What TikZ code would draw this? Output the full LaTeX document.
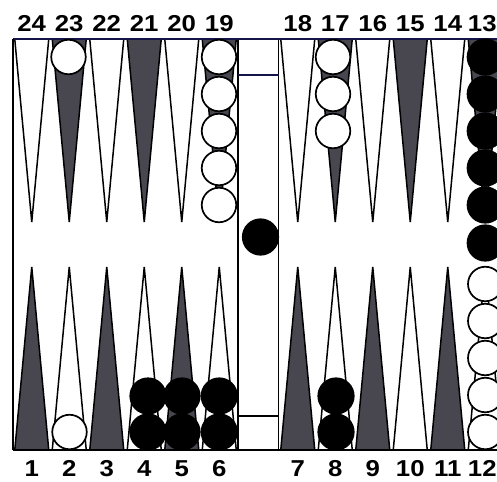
\documentclass[tikz,border=0pt]{standalone}
\usepackage{fontspec}
\setmainfont{Liberation Sans}
\definecolor{pointdark}{RGB}{72,70,78}
\definecolor{edgeblue}{RGB}{20,20,70}
\tikzset{
  brd/.style={line width=1.6pt, draw=black},
  tri/.style={line width=1.5pt, draw=black, line join=miter},
  darktri/.style={tri, fill=pointdark},
  lighttri/.style={tri, fill=white},
  wchk/.style={circle, draw=black, fill=white, line width=1.7pt, minimum size=34.5pt, inner sep=0pt},
  bchk/.style={circle, draw=black, fill=black, line width=1.2pt, minimum size=36pt, inner sep=0pt},
  lbl/.style={font=\bfseries\fontsize{23}{24}\selectfont, inner sep=0pt, anchor=center, xscale=1.12}
}
\begin{document}
\begin{tikzpicture}[x=1pt, y=-1pt]
\useasboundingbox (0,0) rectangle (497,481);
\fill[white] (0,0) rectangle (497,481);
\def\L{13}\def\R{279}\def\W{37.5}\def\H{17}
\def\Top{39}\def\Bot{450}
% labels
\foreach \k/\n in {0/24,1/23,2/22,3/21,4/20,5/19}{
  \pgfmathsetmacro\c{\L+\W*(\k+0.5)}
  \node[lbl] (t\n) at (\c,23.5) {\n};
}
\foreach \k/\n in {0/18,1/17,2/16,3/15,4/14,5/13}{
  \pgfmathsetmacro\c{\R+\W*(\k+0.5)-(\k==5)*3}
  \node[lbl] (t\n) at (\c,23.5) {\n};
}
\foreach \k/\n in {0/1,1/2,2/3,3/4,4/5,5/6}{
  \pgfmathsetmacro\c{\L+\W*(\k+0.5)}
  \node[lbl] (b\n) at (\c,468.5) {\n};
}
\foreach \k/\n in {0/7,1/8,2/9,3/10,4/11,5/12}{
  \pgfmathsetmacro\c{\R+\W*(\k+0.5)-(\k==5)*3}
  \node[lbl] (b\n) at (\c,468.5) {\n};
}
\begin{scope}
\clip (0,0) rectangle (497,481);
% top points 24..19 (left), 18..13 (right)
\foreach \k/\s in {0/lighttri,1/darktri,2/lighttri,3/darktri,4/lighttri,5/darktri}{
  \pgfmathsetmacro\c{\L+\W*(\k+0.5)}
  \draw[\s] (\c-\H,\Top) -- (\c,222) -- (\c+\H,\Top);
  \pgfmathsetmacro\c{\R+\W*(\k+0.5)}
  \draw[\s] (\c-\H,\Top) -- (\c,222) -- (\c+\H,\Top);
}
% bottom points 1..6 (left), 7..12 (right)
\foreach \k/\s in {0/darktri,1/lighttri,2/darktri,3/lighttri,4/darktri,5/lighttri}{
  \pgfmathsetmacro\c{\L+\W*(\k+0.5)}
  \draw[\s] (\c-\H,\Bot) -- (\c,267) -- (\c+\H,\Bot);
  \pgfmathsetmacro\c{\R+\W*(\k+0.5)}
  \draw[\s] (\c-\H,\Bot) -- (\c,267) -- (\c+\H,\Bot);
}
% bar
\draw[brd] (238,\Top) -- (238,\Bot);
\draw[brd] (278.5,\Top) -- (278.5,\Bot);
\draw[line width=1.4pt, draw=edgeblue] (238,75) -- (278.5,75);
\draw[line width=1.4pt] (238,416) -- (278.5,416);
% board frame
\draw[line width=1.8pt, draw=edgeblue] (\L,\Top) -- (497,\Top);
\draw[brd] (\L,\Top) -- (\L,\Bot);
\draw[line width=2pt] (\L,\Bot) -- (497,\Bot);
% white checkers
\node[wchk] (w23) at (68.5,57) {};
\foreach \i/\y in {1/57,2/94,3/131,4/168,5/205}{
  \node[wchk] (w19\i) at (219,\y) {};
}
\foreach \i/\y in {1/57,2/94,3/131}{
  \node[wchk] (w17\i) at (333,\y) {};
}
\node[wchk] (w2) at (69.5,432) {};
\foreach \i/\y in {1/432,2/395,3/358,4/321,5/284}{
  \node[wchk] (w12\i) at (485.25,\y) {};
}
% black checkers
\foreach \i/\y in {1/57,2/94,3/131,4/168,5/205,6/243}{
  \node[bchk] (k13\i) at (485.25,\y) {};
}
\node[bchk] (kbar) at (260.5,237) {};
\foreach \p/\x in {4/148,5/182,6/219.25,8/336}{
  \node[bchk] (k\p a) at (\x,432) {};
  \node[bchk] (k\p b) at (\x,396) {};
}
\end{scope}
\end{tikzpicture}
\end{document}
